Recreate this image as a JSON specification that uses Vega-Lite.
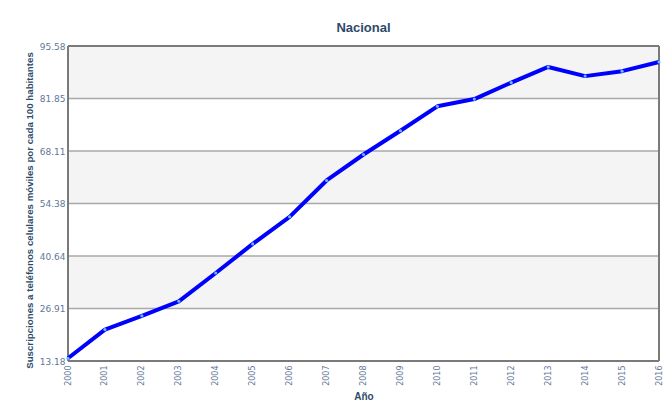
{
  "$schema": "https://vega.github.io/schema/vega-lite/v6.json",
  "width": 591,
  "height": 315,
  "autosize": {"type": "none"},
  "padding": {"left": 68, "top": 46, "right": 6, "bottom": 49},
  "background": "white",
  "title": {"text": "Nacional", "font": "Liberation Sans", "fontSize": 13, "fontWeight": "bold", "color": "#2d4a6b", "offset": 7, "anchor": "middle"},
  "config": {
    "view": {"stroke": null},
    "axis": {"labelFont": "DejaVu Sans", "titleFont": "Liberation Sans", "labelColor": "#5f7799", "titleColor": "#2d4a6b", "titleFontWeight": "bold"}
  },
  "datasets": {
    "bands": [
      {"lo": 81.85, "hi": 95.58},
      {"lo": 54.38, "hi": 68.11},
      {"lo": 26.91, "hi": 40.64}
    ],
    "grid": [
      {"v": 26.91}, {"v": 40.64}, {"v": 54.38}, {"v": 68.11}, {"v": 81.85}
    ],
    "hframe": [
      {"v": 13.18}, {"v": 95.58}
    ],
    "vframe": [
      {"year": "2000"}, {"year": "2016"}
    ],
    "series": [
      {"year": "2000", "value": 13.9},
      {"year": "2001", "value": 21.4},
      {"year": "2002", "value": 25.0},
      {"year": "2003", "value": 28.8},
      {"year": "2004", "value": 36.2},
      {"year": "2005", "value": 43.8},
      {"year": "2006", "value": 50.9},
      {"year": "2007", "value": 60.4},
      {"year": "2008", "value": 67.2},
      {"year": "2009", "value": 73.4},
      {"year": "2010", "value": 79.8},
      {"year": "2011", "value": 81.7},
      {"year": "2012", "value": 86.0},
      {"year": "2013", "value": 90.1},
      {"year": "2014", "value": 87.7},
      {"year": "2015", "value": 89.0},
      {"year": "2016", "value": 91.4}
    ]
  },
  "layer": [
    {
      "data": {"name": "bands"},
      "mark": {"type": "rect", "color": "#f4f4f4"},
      "encoding": {
        "y": {"field": "lo", "type": "quantitative", "scale": {"domain": [13.18, 95.58], "nice": false, "zero": false}},
        "y2": {"field": "hi"}
      }
    },
    {
      "data": {"name": "grid"},
      "mark": {"type": "rule", "color": "#a8a8a8", "strokeWidth": 1.4},
      "encoding": {
        "y": {"field": "v", "type": "quantitative"}
      }
    },
    {
      "data": {"name": "hframe"},
      "mark": {"type": "rule", "color": "#7a7a7a", "strokeWidth": 2},
      "encoding": {
        "y": {"field": "v", "type": "quantitative"}
      }
    },
    {
      "data": {"name": "vframe"},
      "mark": {"type": "rule", "color": "#7a7a7a", "strokeWidth": 2},
      "encoding": {
        "x": {"field": "year", "type": "ordinal"}
      }
    },
    {
      "data": {"name": "series"},
      "mark": {"type": "line", "color": "#0000ff", "strokeWidth": 4, "strokeJoin": "round"},
      "encoding": {
        "x": {"field": "year", "type": "ordinal", "scale": {"type": "point", "padding": 0},
              "axis": {"title": "Año", "titleFontSize": 10, "titlePadding": 6, "labelAngle": -90, "labelFontSize": 8, "labelPadding": 4, "ticks": false, "domain": false}},
        "y": {"field": "value", "type": "quantitative", "scale": {"domain": [13.18, 95.58], "nice": false, "zero": false},
              "axis": {"title": "Suscripciones a teléfonos celulares móviles por cada 100 habitantes", "titleFontSize": 9.7, "titlePadding": 5, "titleY": 164,
                       "values": [13.18, 26.91, 40.64, 54.38, 68.11, 81.85, 95.58], "format": ".2f", "labelFontSize": 9, "labelPadding": 3,
                       "ticks": false, "domain": false, "grid": false}}
      }
    },
    {
      "data": {"name": "series"},
      "mark": {"type": "point", "filled": true, "color": "#66b8ff", "size": 10, "opacity": 1},
      "encoding": {
        "x": {"field": "year", "type": "ordinal"},
        "y": {"field": "value", "type": "quantitative"}
      }
    }
  ]
}
